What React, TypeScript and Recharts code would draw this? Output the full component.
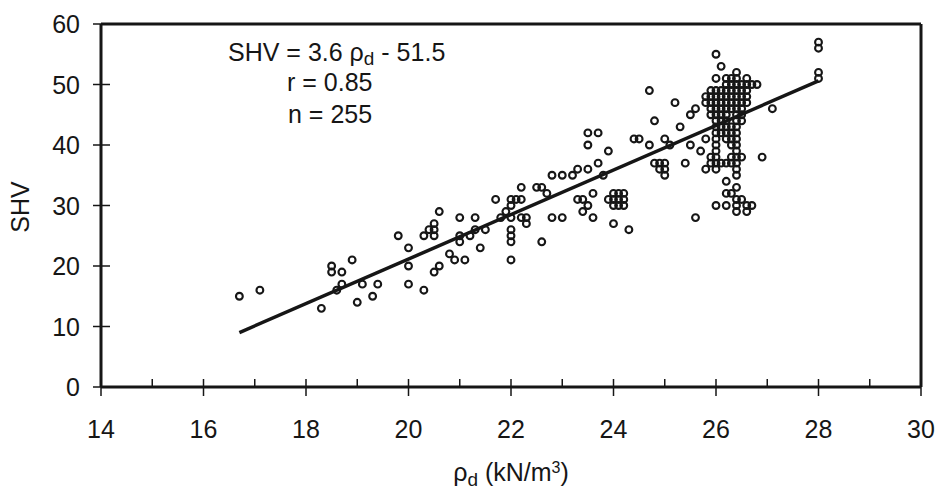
import React from "react";
import { ScatterChart, Scatter, XAxis, YAxis, ReferenceLine } from "recharts";

const FONT = '"Liberation Sans", Arial, Helvetica, sans-serif';
const INK = "#161616";

// ── tick values ───────────────────────────────────────────────────────────
const xTicks = [14, 15, 16, 17, 18, 19, 20, 21, 22, 23, 24, 25, 26, 27, 28, 29, 30];
const yTicks = [0, 10, 20, 30, 40, 50, 60];

// ── measured points [ρd, SHV] ─────────────────────────────────────────────
const lowDensity: [number, number][] = [
  [16.7, 15], [17.1, 16], [18.3, 13], [18.5, 20], [18.5, 19], [18.7, 19], [18.9, 21],
  [18.6, 16], [18.7, 17], [19.0, 14], [19.1, 17], [19.3, 15], [19.4, 17],
];

const midDensity: [number, number][] = [
  [19.8, 25], [20.0, 23], [20.0, 20], [20.0, 17], [20.3, 16], [20.3, 25], [20.5, 25],
  [20.4, 26], [20.5, 26], [20.5, 27], [20.6, 29], [20.5, 19], [20.6, 20], [20.8, 22],
  [20.9, 21], [21.1, 21], [21.0, 25], [21.0, 24], [21.0, 28], [21.2, 25], [21.3, 28],
  [21.3, 26], [21.4, 23], [21.5, 26], [21.7, 31], [21.8, 28], [21.9, 29], [22.0, 31],
  [22.1, 31], [22.2, 31], [22.0, 30], [22.0, 28], [22.0, 26], [22.0, 25], [22.0, 24],
  [22.0, 21], [22.2, 33], [22.2, 28], [22.3, 28], [22.3, 27], [22.5, 33], [22.6, 33],
  [22.7, 32], [22.6, 24], [22.8, 28], [23.0, 28], [22.8, 35], [23.0, 35], [23.2, 35],
  [23.3, 36], [23.5, 36], [23.3, 31], [23.4, 31], [23.4, 29], [23.5, 30], [23.6, 32],
  [23.6, 28],
];

const highDensity: [number, number][] = [
  [23.5, 42], [23.7, 42], [23.5, 40], [23.7, 37], [23.9, 39], [23.8, 35], [23.9, 31],
  [24.0, 32], [24.1, 32], [24.2, 32], [24.0, 31], [24.1, 31], [24.2, 31], [24.0, 30],
  [24.1, 30], [24.2, 30], [24.0, 27], [24.3, 26], [24.4, 41], [24.5, 41], [24.7, 49],
  [24.8, 44], [24.7, 40], [24.8, 37], [24.9, 37], [25.0, 37], [24.9, 36], [25.0, 36],
  [25.0, 35], [25.0, 41], [25.1, 40], [25.2, 47], [25.3, 43], [25.5, 45], [25.6, 46],
  [25.8, 47], [25.4, 37], [25.5, 40], [25.7, 39], [25.8, 41], [25.8, 36], [25.6, 28],
  [26.9, 38], [27.1, 46], [28.0, 57], [28.0, 56], [28.0, 52], [28.0, 51],
];

// dense column around 26 kN/m3: SHV row -> ρd values
const clusterRows: { shv: number; rho: number[] }[] = [
  { shv: 55, rho: [26.0] },
  { shv: 53, rho: [26.1] },
  { shv: 52, rho: [26.4] },
  { shv: 51, rho: [26.0, 26.2, 26.3, 26.4, 26.6] },
  { shv: 50, rho: [26.2, 26.3, 26.4, 26.5, 26.6, 26.7, 26.8] },
  { shv: 49, rho: [25.9, 26.0, 26.1, 26.2, 26.3, 26.4, 26.5, 26.6] },
  { shv: 48, rho: [25.8, 25.9, 26.0, 26.1, 26.2, 26.3, 26.4, 26.5, 26.6] },
  { shv: 47, rho: [25.9, 26.0, 26.1, 26.2, 26.3, 26.4, 26.5, 26.6] },
  { shv: 46, rho: [25.9, 26.0, 26.1, 26.2, 26.3, 26.4, 26.5] },
  { shv: 45, rho: [25.9, 26.0, 26.1, 26.2, 26.4, 26.5] },
  { shv: 44, rho: [26.0, 26.1, 26.2, 26.4, 26.5] },
  { shv: 43, rho: [26.0, 26.1, 26.2, 26.3, 26.4] },
  { shv: 42, rho: [26.0, 26.1, 26.2, 26.3, 26.4] },
  { shv: 41, rho: [26.0, 26.2, 26.3, 26.4] },
  { shv: 40, rho: [26.0, 26.3, 26.4] },
  { shv: 39, rho: [26.0, 26.4] },
  { shv: 38, rho: [25.9, 26.0, 26.3, 26.4, 26.5] },
  { shv: 37, rho: [25.9, 26.0, 26.1, 26.2, 26.3, 26.4] },
  { shv: 36, rho: [26.0, 26.4] },
  { shv: 35, rho: [26.4] },
  { shv: 34, rho: [26.2] },
  { shv: 33, rho: [26.4] },
  { shv: 32, rho: [26.2, 26.3] },
  { shv: 31, rho: [26.4, 26.5] },
  { shv: 30, rho: [26.0, 26.2, 26.4, 26.6, 26.7] },
  { shv: 29, rho: [26.4, 26.6] },
];

// regression line end points as drawn
const fitLine: [number, number][] = [[16.7, 9], [28.0, 50.6]];

const points = [
  ...lowDensity,
  ...midDensity,
  ...highDensity,
  ...clusterRows.flatMap((r) => r.rho.map((x) => [x, r.shv] as [number, number])),
].map(([x, y]) => ({ x, y }));

const Ring = (p: any) => (
  <circle cx={p.cx} cy={p.cy} r={3.4} fill="none" stroke={INK} strokeWidth={2.1} />
);

const XTick = (p: any) => {
  const v = p.payload.value;
  const major = v % 2 === 0;
  return (
    <g>
      <line x1={p.x} x2={p.x} y1={p.y - 8} y2={major ? p.y + 9 : p.y} stroke={INK} strokeWidth={1.5} />
      {major && (
        <text x={p.x} y={p.y + 51} textAnchor="middle" fontSize={25} fontFamily={FONT} fill={INK}>
          {v}
        </text>
      )}
    </g>
  );
};

const YTick = (p: any) => (
  <g>
    <line x1={p.x - 8} x2={p.x + 9} y1={p.y} y2={p.y} stroke={INK} strokeWidth={1.5} />
    <text x={p.x - 21} y={p.y + 9} textAnchor="end" fontSize={25} fontFamily={FONT} fill={INK}>
      {p.payload.value}
    </text>
  </g>
);

export default function App() {
  return (
    <div style={{ position: "relative", width: 944, height: 495, background: "#fff" }}>
      <style>{`body{margin:0}`}</style>
      <ScatterChart width={944} height={495} margin={{ top: 24, right: 23, bottom: 0, left: 0 }}>
        <XAxis
          type="number"
          dataKey="x"
          domain={[14, 30]}
          ticks={xTicks}
          interval={0}
          height={108}
          tickSize={0}
          tickMargin={0}
          tick={XTick}
          axisLine={{ stroke: INK, strokeWidth: 3 }}
        />
        <YAxis
          type="number"
          dataKey="y"
          domain={[0, 60]}
          ticks={yTicks}
          interval={0}
          width={101}
          tickSize={0}
          tickMargin={0}
          tick={YTick}
          axisLine={{ stroke: INK, strokeWidth: 3 }}
        />
        <ReferenceLine y={60} stroke={INK} strokeWidth={3} />
        <ReferenceLine x={30} stroke={INK} strokeWidth={3} />
        <Scatter data={points} shape={Ring} isAnimationActive={false} />
        <ReferenceLine
          segment={fitLine.map(([x, y]) => ({ x, y }))}
          stroke={INK}
          strokeWidth={3.5}
        />
      </ScatterChart>
      <svg
        width={944}
        height={495}
        style={{ position: "absolute", left: 0, top: 0, pointerEvents: "none" }}
        fontFamily={FONT}
        fill={INK}
      >
        <text x={228} y={61} fontSize={25}>
          SHV = 3.6 ρ<tspan fontSize={19} dy={4}>d</tspan>
          <tspan dy={-4}> - 51.5</tspan>
        </text>
        <text x={287} y={91} fontSize={25}>r = 0.85</text>
        <text x={288} y={123} fontSize={25}>n = 255</text>
        <text transform="translate(29,207) rotate(-90)" textAnchor="middle" fontSize={25}>SHV</text>
        <text x={511} y={481} textAnchor="middle" fontSize={25}>
          ρ<tspan fontSize={19} dy={5}>d</tspan>
          <tspan dy={-5}> (kN/m</tspan>
          <tspan fontSize={16} dy={-8}>3</tspan>
          <tspan dy={8}>)</tspan>
        </text>
      </svg>
    </div>
  );
}
